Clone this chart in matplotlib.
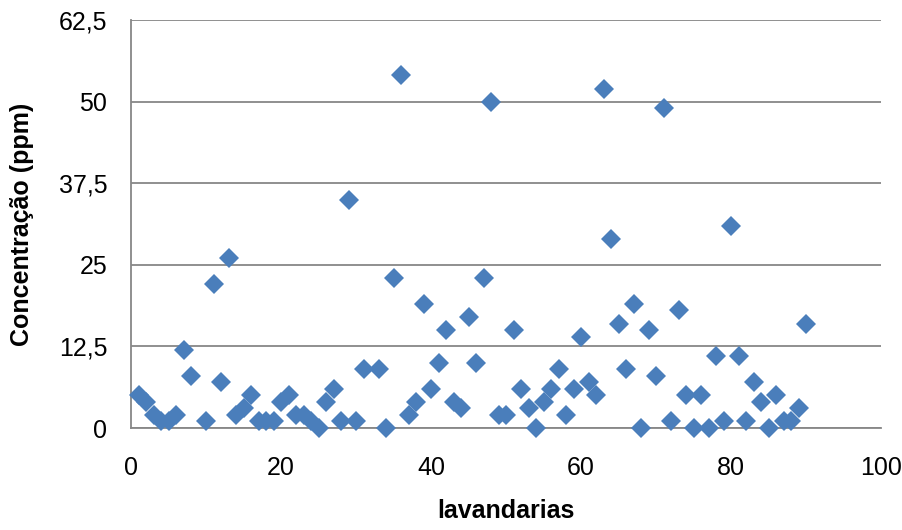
import numpy as np
import matplotlib.pyplot as plt
from matplotlib.ticker import FuncFormatter

plt.rcParams['font.family'] = ['Liberation Sans', 'DejaVu Sans']

# lavandarias 1..90 (9 and 32 not shown in the chart)
lavandarias = list(range(1, 91))
concentracao = [5, 4, 2, 1, 1, 2, 12, 8, np.nan, 1,
                22, 7, 26, 2, 3, 5, 1, 1, 1, 4,
                5, 2, 2, 1, 0, 4, 6, 1, 35, 1,
                9, np.nan, 9, 0, 23, 54, 2, 4, 19, 6,
                10, 15, 4, 3, 17, 10, 23, 50, 2, 2,
                15, 6, 3, 0, 4, 6, 9, 2, 6, 14,
                7, 5, 52, 29, 16, 9, 19, 0, 15, 8,
                49, 1, 18, 5, 0, 5, 0, 11, 1, 31,
                11, 1, 7, 4, 0, 5, 1, 1, 3, 16]
yticks = [0, 12.5, 25, 37.5, 50, 62.5]
xticks = [0, 20, 40, 60, 80, 100]

fig = plt.figure(figsize=(9.02, 5.30), dpi=100)
ax = fig.add_axes([131/902, 1 - 428/530, 750/902, 408/530])

ax.plot(lavandarias, concentracao, linestyle='none', marker='D', markersize=10,
        color='#4A7EBB', markeredgewidth=0, zorder=3, clip_on=False)

ax.set_xlim(0, 100)
ax.set_ylim(0, 62.5)
ax.set_xticks(xticks)
ax.set_yticks(yticks)
ax.yaxis.set_major_formatter(FuncFormatter(lambda v, p: ('%g' % v).replace('.', ',')))
ax.grid(axis='y', color='#878787', linewidth=1.3)
ax.set_axisbelow(True)

for s in ['top', 'right']:
    ax.spines[s].set_visible(False)
for s in ['left', 'bottom']:
    ax.spines[s].set_color('#878787')
    ax.spines[s].set_linewidth(1.3)
ax.tick_params(axis='both', labelsize=18, length=0)
ax.tick_params(axis='y', pad=17)
ax.tick_params(axis='x', pad=20)

ax.set_xlabel('lavandarias', fontsize=18, fontweight='bold', labelpad=14)
ax.set_ylabel('Concentração (ppm)', fontsize=18, fontweight='bold', labelpad=18)

fig.savefig('out.png', dpi=100)
